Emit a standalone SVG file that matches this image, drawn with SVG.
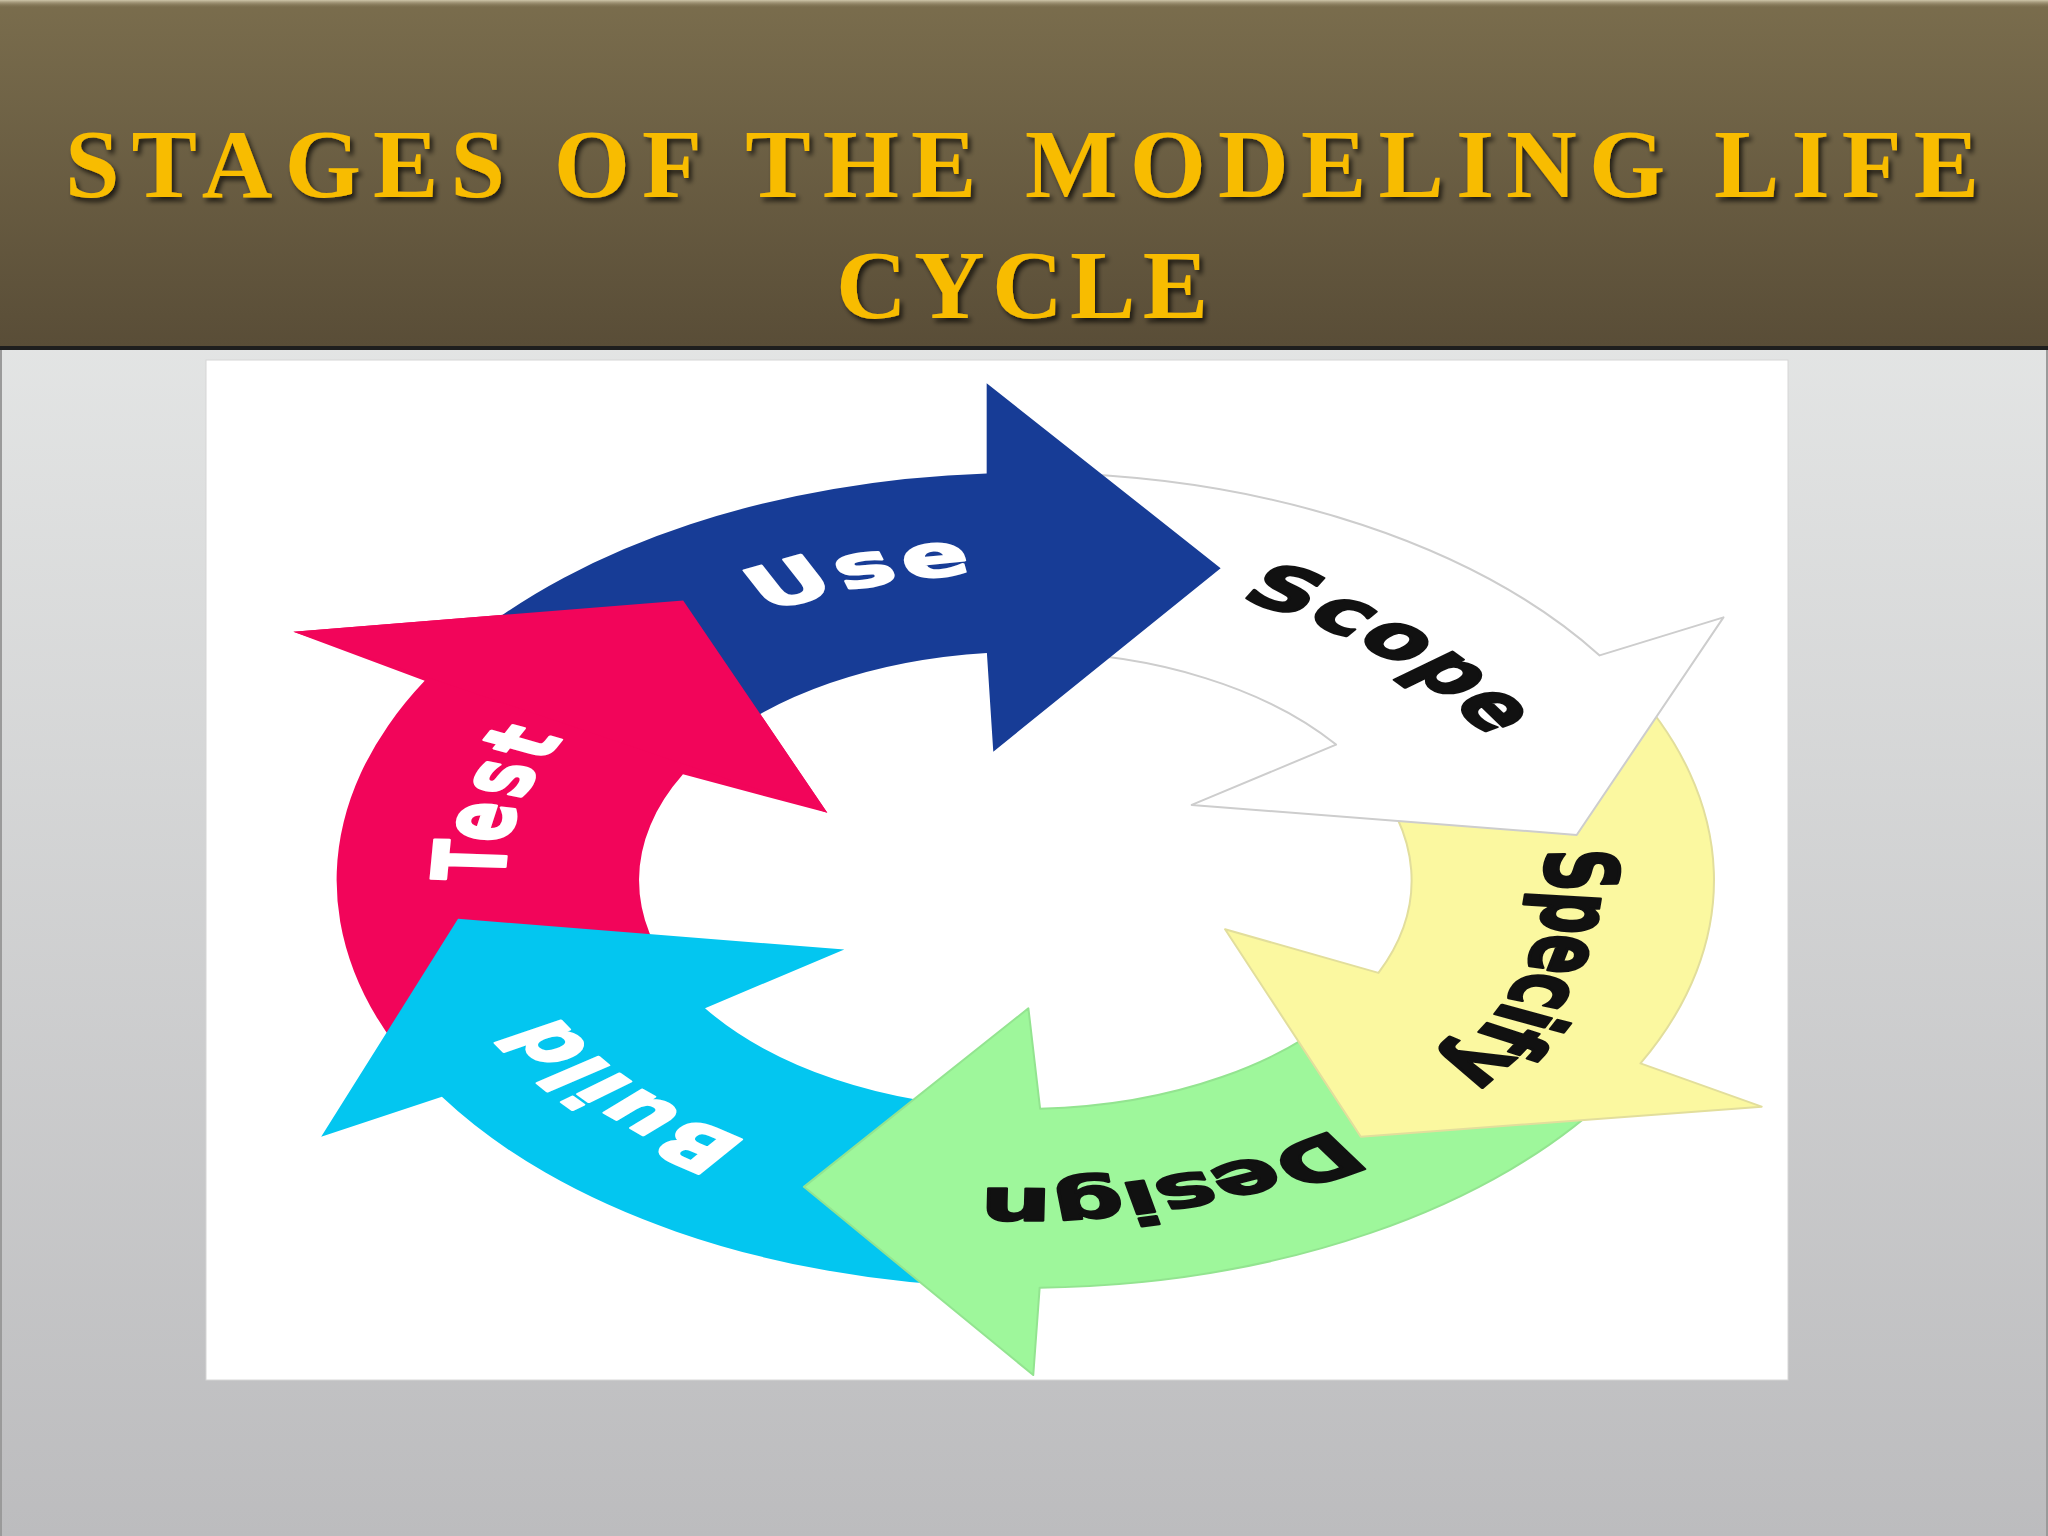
<svg xmlns="http://www.w3.org/2000/svg" width="2048" height="1536" viewBox="0 0 2048 1536">
<defs>
  <linearGradient id="hdr" x1="0" y1="0" x2="0" y2="1">
    <stop offset="0" stop-color="#7a6d4d"/>
    <stop offset="1" stop-color="#594d37"/>
  </linearGradient>
  <linearGradient id="hdrTop" x1="0" y1="0" x2="0" y2="1">
    <stop offset="0" stop-color="#cfc6aa"/>
    <stop offset="1" stop-color="#7a6d4d" stop-opacity="0"/>
  </linearGradient>
  <linearGradient id="body" x1="0" y1="0" x2="0" y2="1">
    <stop offset="0" stop-color="#eef0ef"/>
    <stop offset="1" stop-color="#bcbcbe"/>
  </linearGradient>
  <filter id="tshadow" x="-5%" y="-30%" width="110%" height="170%">
    <feDropShadow dx="3" dy="4" stdDeviation="2.5" flood-color="#000000" flood-opacity="0.7"/>
  </filter>
  <path id="ring" d="M 0 -236 A 236 236 0 1 1 0 236 A 236 236 0 1 1 0 -236" fill="none"/>
  <path id="testHead" d="M -331.6 -190.3 L -155 -214.3 L -89.7 -51.7 Z"/>
</defs>
<style>
  .title { font-family: "Liberation Serif", "Times New Roman", serif; font-weight: bold; font-size: 98px; fill: #f8bc00; }
  .lbl { font-family: "DejaVu Sans", "Liberation Sans", sans-serif; font-weight: bold; font-size: 45px; text-anchor: middle; stroke-width: 1.6; stroke-linejoin: round; }
  .w { fill: #ffffff; stroke: #ffffff; }
  .k { fill: #111111; stroke: #111111; }
  .edge { vector-effect: non-scaling-stroke; stroke-width: 2; stroke-linejoin: round; }
</style>

<!-- slide background -->
<rect x="0" y="0" width="2048" height="1536" fill="url(#body)"/>
<rect x="0" y="350" width="2" height="1186" fill="#9a9a9a"/>
<rect x="2046" y="350" width="2" height="1186" fill="#9a9a9a"/>

<!-- header -->
<g id="header">
  <rect x="0" y="0" width="2048" height="348" fill="url(#hdr)"/>
  <rect x="0" y="0" width="2048" height="8" fill="url(#hdrTop)"/>
  <rect x="0" y="346" width="2048" height="4" fill="#1e1e1e"/>
  <g filter="url(#tshadow)">
    <text class="title" x="65" y="197" textLength="1914" lengthAdjust="spacing">STAGES OF THE MODELING LIFE</text>
    <text class="title" x="836" y="318" textLength="372" lengthAdjust="spacing">CYCLE</text>
  </g>
</g>

<!-- picture -->
<rect id="picture" x="206" y="360" width="1582" height="1020" fill="#ffffff" stroke="#d6d6d6" stroke-width="1"/>

<g id="cycle" transform="translate(1025.3 880.3) scale(2.2073 1.30612)">
  <g id="test">
    <path fill="#f2055a" d="M -278 141.6 A 312 312 0 0 1 -272.1 -152.7 L -331.6 -190.3 L -155 -214.3 L -89.7 -51.7 L -155.1 -81.1 A 175 175 0 0 0 -155.9 79.4 Z"/>
    <text class="lbl w" letter-spacing="3.6"><textPath href="#ring" startOffset="1169.8">Test</textPath></text>
  </g>
  <g id="build">
    <path fill="#03c6f0" d="M -16.3 311.6 A 312 312 0 0 1 -264.3 165.8 L -319 196.3 L -257 29.5 L -82 53 L -145.1 97.9 A 175 175 0 0 0 -9.2 174.8 Z"/>
    <text class="lbl w" letter-spacing="0.5"><textPath href="#ring" startOffset="938.7">Build</textPath></text>
  </g>
  <g id="design">
    <path class="edge" fill="#9ef79b" stroke="#93e490" d="M 267.4 160.7 A 312 312 0 0 1 6.5 311.9 L 3.6 378.8 L -100.3 234.7 L 1.4 98 L 6.7 174.9 A 175 175 0 0 0 150 90.1 Z"/>
    <text class="lbl k" letter-spacing="-1"><textPath href="#ring" startOffset="676">Design</textPath></text>
  </g>
  <g id="specify">
    <path class="edge" fill="#fbf8a0" stroke="#e2de9c" d="M 272.9 -151.3 A 312 312 0 0 1 278.7 140.2 L 333.6 173.3 L 152 196.3 L 90.5 37.5 L 160 70.9 A 175 175 0 0 0 153.1 -84.8 Z"/>
    <text class="lbl k" letter-spacing="-1"><textPath href="#ring" startOffset="436.6">Specify</textPath></text>
  </g>
  <g id="scope">
    <path class="edge" fill="#ffffff" stroke="#cdcdcd" d="M 10.9 -311.8 A 312 312 0 0 1 260.2 -172.2 L 316.3 -201.3 L 249.8 -34.7 L 75.4 -57.7 L 140.8 -103.9 A 175 175 0 0 0 6.1 -174.9 Z"/>
    <text class="lbl k" letter-spacing="1"><textPath href="#ring" startOffset="177.9">Scope</textPath></text>
  </g>
  <g id="use">
    <path fill="#173c96" d="M -255.6 -179 A 312 312 0 0 1 -17.5 -311.5 L -17.5 -380.5 L 88.5 -239 L -14.5 -98.5 L -17.4 -174.1 A 175 175 0 0 0 -143.4 -100.4 Z"/>
    <text class="lbl w" letter-spacing="2.3"><textPath href="#ring" startOffset="1410.3">Use</textPath></text>
  </g>
  <use id="test-head" href="#testHead" fill="#f2055a"/>
</g>
</svg>
